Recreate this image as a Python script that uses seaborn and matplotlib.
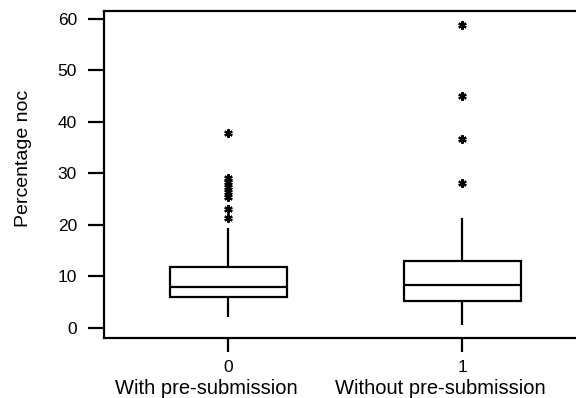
import numpy as np
import pandas as pd
import matplotlib
matplotlib.use("Agg")
import matplotlib.pyplot as plt
import seaborn as sns

# Valores estimados a partir de la figura (cuartiles, bigotes y atípicos leídos)
codigos = ["0", "1"]
nombres = ["With pre-submission", "Without pre-submission"]

con_presub = [2.1, 3.2, 4.0, 4.6, 5.0, 5.3, 5.6, 5.8, 6.0,
              6.1,
              6.3, 6.6, 6.9, 7.1, 7.4, 7.6, 7.8, 7.9,
              8.0,
              8.4, 8.9, 9.3, 9.8, 10.3, 10.8, 11.3, 11.7,
              11.9,
              19.4, 21.3, 23.2, 25.5, 26.5, 27.4, 28.4, 29.1, 37.8]

sin_presub = [0.6, 1.8, 2.9, 3.7, 4.4, 4.9,
              5.3,
              5.9, 6.5, 7.1, 7.6, 8.0,
              8.35,
              9.0, 9.9, 10.8, 11.6, 12.4,
              13.1,
              16.0, 21.3, 28.2, 36.6, 45.1, 58.8]

df = pd.DataFrame({
    "grupo": [codigos[0]] * len(con_presub) + [codigos[1]] * len(sin_presub),
    "noc": con_presub + sin_presub,
})

sns.set_style("ticks")
plt.rcParams["font.family"] = ["Liberation Sans", "DejaVu Sans"]
plt.rcParams["text.color"] = "black"
plt.rcParams["axes.labelcolor"] = "black"
plt.rcParams["xtick.color"] = "black"
plt.rcParams["ytick.color"] = "black"

fig = plt.figure(figsize=(5.76, 3.98), dpi=100)
ax = fig.add_axes([0.1806, 0.1508, 0.8194, 0.8216])

sns.boxplot(data=df, x="grupo", y="noc", order=codigos, ax=ax,
            color="white", linecolor="black", linewidth=1.6, width=0.5,
            showcaps=False,
            flierprops=dict(marker=(6, 2, 0), markersize=6,
                            markeredgecolor="black", markeredgewidth=1.6))

ax.set_xlim(-0.53, 1.487)
ax.set_ylim(-1.94, 61.55)
ax.set_yticks([0, 10, 20, 30, 40, 50, 60])

ax.set_xlabel("")
ax.set_ylabel("Percentage noc", fontsize=14)
ax.yaxis.set_label_coords(-0.152, 0.55)

ax.tick_params(axis="y", length=11.5, width=1.6, pad=8, labelsize=12.5)
ax.tick_params(axis="x", length=10, width=1.6, pad=6, labelsize=12.5)

for lado in ["left", "top", "bottom"]:
    ax.spines[lado].set_linewidth(1.6)
    ax.spines[lado].set_color("black")
ax.spines["right"].set_visible(False)

# nombres de los grupos bajo los códigos 0 / 1
for i, nombre in enumerate(nombres):
    ax.text(i - 0.095, -0.155, nombre, transform=ax.get_xaxis_transform(),
            ha="center", va="center", fontsize=14.5)

fig.savefig("out.png", dpi=100)
